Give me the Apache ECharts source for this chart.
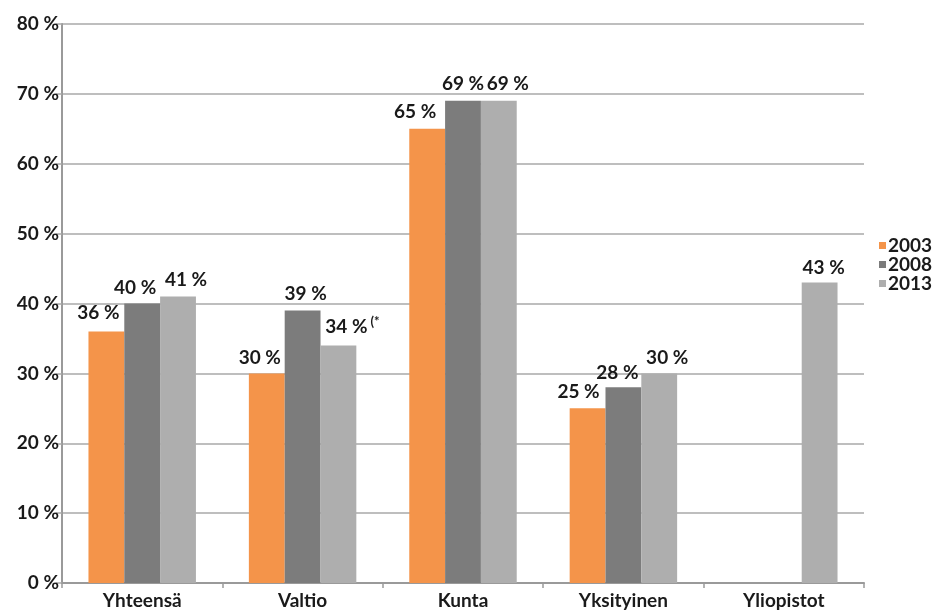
<!DOCTYPE html>
<html>
<head>
<meta charset="utf-8">
<script src="https://cdn.jsdelivr.net/npm/echarts@6/dist/echarts.min.js"></script>
<style>html,body{margin:0;padding:0;background:#fff;}#c{width:940px;height:614px;}</style>
</head>
<body>
<div id="c"></div>
<script>
var categories = ['Yhteensä', 'Valtio', 'Kunta', 'Yksityinen', 'Yliopistot'];
var seriesNames = ['2003', '2008', '2013'];
var values2003 = [36, 30, 65, 25, null];
var values2008 = [40, 39, 69, 28, null];
var values2013 = [41, 34, 69, 30, 43];
var yTicks = [0, 10, 20, 30, 40, 50, 60, 70, 80];
var footnoteIndex = 1; // Valtio 2013 has "(*" note

// label nudges (style only)
var labelShift = [
  [[-8, -2], [-7, 1], [-12, 0], [-9, 0], [0, 0]],
  [[-7, 1], [3, 0], [0, 0], [-6, 2], [0, 0]],
  [[8, 0], [14, 0], [9, 0], [8, 1], [4, 2]]
];
var colors = ['#F4944A', '#7C7C7C', '#AEAEAE'];
var FONT = 'Lato';
var TXT = '#1a1a1a';
var FW = 'bold';
var FS = 19;

function buildSeries(name, vals, si) {
  return {
    name: name,
    type: 'bar',
    barGap: '0%',
    barCategoryGap: '33%',
    itemStyle: { color: colors[si] },
    data: vals.map(function (v, i) {
      if (v === null) return null;
      var note = (si === 2 && i === footnoteIndex);
      return {
        value: v,
        label: {
          show: true,
          position: 'top',
          distance: 7,
          offset: labelShift[si][i],
          formatter: note ? '{a|' + v + ' %}{s|(*}' : '{a|' + v + ' %}',
          rich: {
            a: { fontFamily: FONT, fontSize: FS, fontWeight: FW, color: TXT },
            s: { fontFamily: FONT, fontSize: 13, fontWeight: FW, color: TXT, padding: [0, 0, 10, 3] }
          }
        }
      };
    })
  };
}

var chart = echarts.init(document.getElementById('c'));
chart.setOption({
  backgroundColor: '#ffffff',
  animation: false,
  textStyle: { fontFamily: FONT },
  grid: { left: 62, right: 76, top: 24, bottom: 31 },
  legend: {
    orient: 'vertical',
    left: 874,
    top: 231,
    itemWidth: 7,
    itemHeight: 7,
    itemGap: 0,
    icon: 'rect',
    data: seriesNames,
    textStyle: { fontFamily: FONT, fontSize: FS, fontWeight: FW, color: TXT, padding: [0, 0, 0, -3] }
  },
  xAxis: {
    type: 'category',
    data: categories,
    axisLine: { lineStyle: { color: '#9a9a9a', width: 2 } },
    axisTick: { show: true, length: 5, alignWithLabel: false, lineStyle: { color: '#9a9a9a', width: 1.5 } },
    axisLabel: { fontFamily: FONT, fontSize: FS, fontWeight: FW, color: TXT, margin: 8 }
  },
  yAxis: {
    type: 'value',
    min: yTicks[0],
    max: yTicks[yTicks.length - 1],
    interval: 10,
    axisLine: { show: true, lineStyle: { color: '#9a9a9a', width: 2 } },
    axisTick: { show: true, length: 6, lineStyle: { color: '#a8a8a8', width: 1.5 } },
    splitLine: { lineStyle: { color: '#a8a8a8', width: 1.5 } },
    axisLabel: { fontFamily: FONT, fontSize: FS, fontWeight: FW, color: TXT, margin: 3, formatter: '{value} %' }
  },
  series: [
    buildSeries(seriesNames[0], values2003, 0),
    buildSeries(seriesNames[1], values2008, 1),
    buildSeries(seriesNames[2], values2013, 2)
  ]
});
</script>
</body>
</html>
